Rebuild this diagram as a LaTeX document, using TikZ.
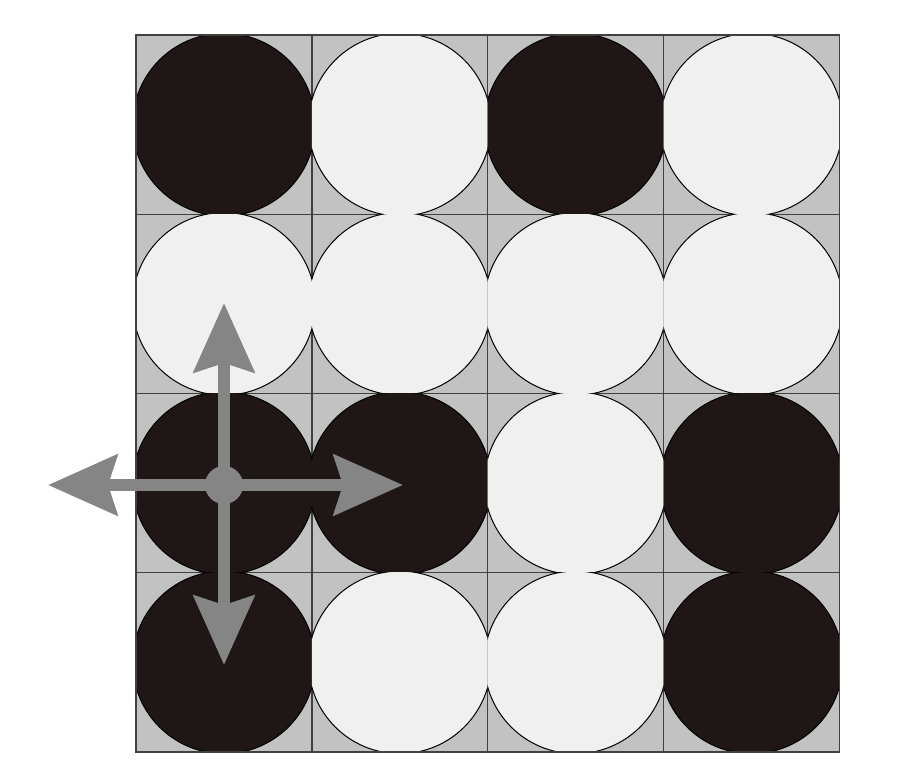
\documentclass[tikz,border=0pt]{standalone}
\usetikzlibrary{arrows.meta}
\definecolor{stonecol}{HTML}{1E1716}
\definecolor{pearl}{HTML}{F0F0F0}
\definecolor{board}{HTML}{C2C2C2}
\definecolor{arrowgray}{HTML}{858585}
\begin{document}
\begin{tikzpicture}[x=1pt, y=-1pt,
  gridline/.style={draw=black!75, line width=1.3pt},
  blackstone/.style={fill=stonecol, draw=black, line width=1pt},
  whitestone/.style={fill=pearl, draw=black, line width=1pt},
  move/.style={draw=arrowgray, line width=12pt, -{Stealth[length=69pt, width=60pt, inset=9pt]}},
  hub/.style={circle, fill=arrowgray, minimum size=38pt, inner sep=0pt}]
  \useasboundingbox (0,0) rectangle (909,783);
  % board
  \fill[board] (136,35) rectangle (839.5,752);
  \foreach \i in {1,...,3} {
    \draw[gridline] ({136+175.85*\i},35) -- ({136+175.85*\i},752);
    \draw[gridline] (136,{35+179.25*\i}) -- (839.5,{35+179.25*\i});
  }
  % stones, each clipped to its cell
  \foreach \c/\r/\kind in {1/1/blackstone, 2/1/whitestone, 3/1/blackstone, 4/1/whitestone,
                          1/2/whitestone, 2/2/whitestone, 3/2/whitestone, 4/2/whitestone,
                          1/3/blackstone, 2/3/blackstone, 3/3/whitestone, 4/3/blackstone,
                          1/4/blackstone, 2/4/whitestone, 3/4/whitestone, 4/4/blackstone} {
    \begin{scope}
      \clip ({136+175.85*(\c-1)},{35+179.25*(\r-1)}) rectangle +(175.85,179.25);
      \draw[\kind] ({136+175.85*(\c-0.5)},{35+179.25*(\r-0.5)}) circle[radius=91.3];
    \end{scope}
  }
  \draw[gridline] (136,35) rectangle (839.5,752);
  % moves
  \node[hub] (hub) at (224,485) {};
  \coordinate (north) at (224,303);
  \coordinate (south) at (224,665);
  \coordinate (west) at (48,485);
  \coordinate (east) at (403,485);
  \draw[move] (hub.center) -- (north);
  \draw[move] (hub.center) -- (south);
  \draw[move] (hub.center) -- (west);
  \draw[move] (hub.center) -- (east);
\end{tikzpicture}
\end{document}
